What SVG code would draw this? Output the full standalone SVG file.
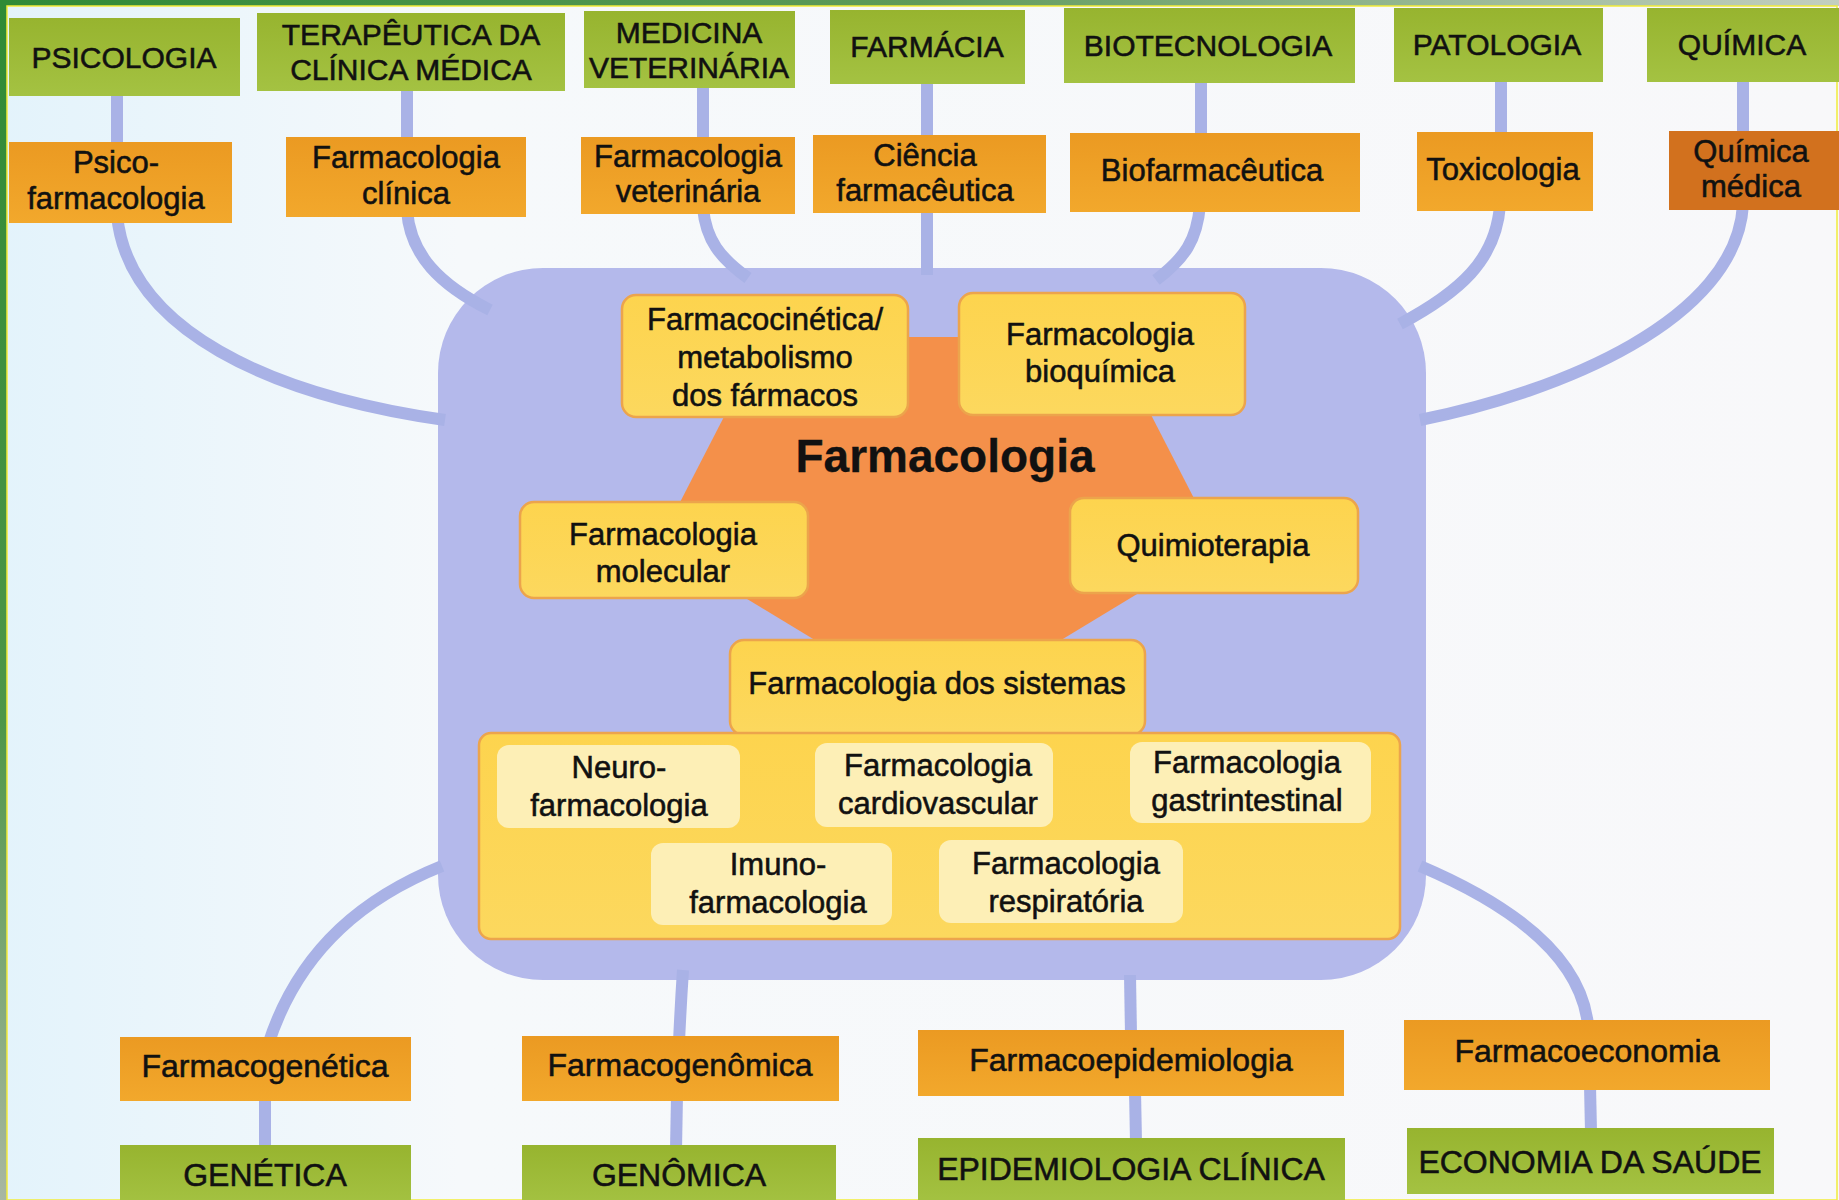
<svg xmlns="http://www.w3.org/2000/svg" width="1839" height="1200" viewBox="0 0 1839 1200">
<defs>
<linearGradient id="bg" x1="0" y1="0" x2="1" y2="0">
<stop offset="0" stop-color="#e3f3fb"/><stop offset="0.25" stop-color="#f6f9fb"/><stop offset="1" stop-color="#f8f8fa"/>
</linearGradient>
<linearGradient id="topband" x1="0" y1="0" x2="1" y2="0">
<stop offset="0" stop-color="#2f8a36"/><stop offset="0.5" stop-color="#5e9a5a"/><stop offset="1" stop-color="#c3cfc0"/>
</linearGradient>
<linearGradient id="leftband" x1="0" y1="0" x2="0" y2="1">
<stop offset="0" stop-color="#2f8a36"/><stop offset="0.6" stop-color="#4e9648"/><stop offset="1" stop-color="#a9b7a2"/>
</linearGradient>
<linearGradient id="grn" x1="0" y1="0" x2="0" y2="1">
<stop offset="0" stop-color="#97b42f"/><stop offset="1" stop-color="#a4c242"/>
</linearGradient>
<linearGradient id="org" x1="0" y1="0" x2="0" y2="1">
<stop offset="0" stop-color="#eb9a22"/><stop offset="1" stop-color="#f2a82c"/>
</linearGradient>
<linearGradient id="yel" x1="0" y1="0" x2="0" y2="1">
<stop offset="0" stop-color="#fdd44e"/><stop offset="1" stop-color="#fcd85e"/>
</linearGradient>
</defs>
<style>
.t{font-family:"Liberation Sans",Arial,Helvetica,sans-serif;font-size:31px;fill:#111;stroke:#111;stroke-width:0.55px;text-anchor:middle;dominant-baseline:central}
.tt{font-size:30px}
.tb{font-size:32px}
.g{fill:url(#grn)}
.o{fill:url(#org)}
.om{fill:#d2711e}
.y{fill:url(#yel);stroke:#eca44c;stroke-width:2.5}
.p{fill:#fdefb6}
.c{fill:none;stroke:#a9b2e6;stroke-width:12;stroke-linecap:butt}
</style>
<rect x="0" y="0" width="1839" height="1200" fill="url(#bg)"/>
<rect x="0" y="0" width="1839" height="6" fill="url(#topband)"/>
<rect x="0" y="0" width="7" height="1200" fill="url(#leftband)"/>
<rect x="7" y="6" width="1830" height="1194" fill="none" stroke="#f2ec3a" stroke-width="1.5"/>

<g id="area-farmacologia">
<rect x="438" y="268" width="988" height="712" rx="105" fill="#b4b9eb"/>
</g>

<g id="connectors">
<path class="c" d="M117,90 L117,150"/>
<path class="c" d="M117,215 C128,330 270,395 445,420"/>
<path class="c" d="M407,85 L407,145"/>
<path class="c" d="M407,210 C410,255 440,285 490,310"/>
<path class="c" d="M703,82 L703,145"/>
<path class="c" d="M703,208 C706,240 720,258 748,278"/>
<path class="c" d="M927,80 L927,275"/>
<path class="c" d="M1201,78 L1201,140"/>
<path class="c" d="M1200,205 C1197,240 1185,258 1156,280"/>
<path class="c" d="M1501,78 L1501,140"/>
<path class="c" d="M1500,205 C1496,260 1460,292 1400,324"/>
<path class="c" d="M1743,78 L1743,140"/>
<path class="c" d="M1743,205 C1736,320 1560,392 1420,420"/>
<path class="c" d="M442,866 C370,895 300,945 268,1045"/>
<path class="c" d="M265,1095 L265,1150"/>
<path class="c" d="M683,970 C681,1000 680,1020 679,1042"/>
<path class="c" d="M677,1095 L676,1150"/>
<path class="c" d="M1130,975 L1131,1035"/>
<path class="c" d="M1135,1090 L1136,1142"/>
<path class="c" d="M1420,866 C1500,900 1580,950 1588,1025"/>
<path class="c" d="M1590,1085 L1591,1132"/>
</g>

<g id="hexagono-farmacologia">
<polygon points="765,337 1111,337 1218,545 1048,648 828,648 658,545" fill="#f4904a"/>
<text class="t" x="945" y="456" style="font-size:46px;font-weight:bold;stroke-width:0.3px">Farmacologia</text>
</g>

<g id="psicologia"><rect class="g" x="9" y="18" width="231" height="78"/><text class="t tt" x="124" y="57">PSICOLOGIA</text></g>
<g id="terapeutica"><rect class="g" x="257" y="13" width="308" height="78"/><text class="t tt" x="411" y="34">TERAPÊUTICA DA</text><text class="t tt" x="411" y="69">CLÍNICA MÉDICA</text></g>
<g id="medicina-veterinaria"><rect class="g" x="584" y="11" width="211" height="77"/><text class="t tt" x="689" y="32">MEDICINA</text><text class="t tt" x="689" y="67">VETERINÁRIA</text></g>
<g id="farmacia"><rect class="g" x="830" y="10" width="195" height="74"/><text class="t tt" x="927" y="46">FARMÁCIA</text></g>
<g id="biotecnologia"><rect class="g" x="1064" y="8" width="291" height="75"/><text class="t tt" x="1208" y="45">BIOTECNOLOGIA</text></g>
<g id="patologia"><rect class="g" x="1394" y="8" width="209" height="74"/><text class="t tt" x="1497" y="44">PATOLOGIA</text></g>
<g id="quimica"><rect class="g" x="1647" y="8" width="192" height="74"/><text class="t tt" x="1742" y="44">QUÍMICA</text></g>

<g id="psicofarmacologia"><rect class="o" x="9" y="142" width="223" height="81"/><text class="t" x="116" y="162">Psico-</text><text class="t" x="116" y="198">farmacologia</text></g>
<g id="farmacologia-clinica"><rect class="o" x="286" y="137" width="240" height="80"/><text class="t" x="406" y="157">Farmacologia</text><text class="t" x="406" y="193">clínica</text></g>
<g id="farmacologia-veterinaria"><rect class="o" x="581" y="137" width="214" height="77"/><text class="t" x="688" y="156">Farmacologia</text><text class="t" x="688" y="191">veterinária</text></g>
<g id="ciencia-farmaceutica"><rect class="o" x="813" y="135" width="233" height="78"/><text class="t" x="925" y="155">Ciência</text><text class="t" x="925" y="190">farmacêutica</text></g>
<g id="biofarmaceutica"><rect class="o" x="1070" y="133" width="290" height="79"/><text class="t" x="1212" y="170">Biofarmacêutica</text></g>
<g id="toxicologia"><rect class="o" x="1417" y="132" width="176" height="79"/><text class="t" x="1503" y="169">Toxicologia</text></g>
<g id="quimica-medica"><rect class="om" x="1669" y="131" width="170" height="79"/><text class="t" x="1751" y="151">Química</text><text class="t" x="1751" y="186">médica</text></g>

<g id="farmacocinetica"><rect class="y" x="622" y="295" width="286" height="122" rx="14"/><text class="t" x="765" y="319">Farmacocinética/</text><text class="t" x="765" y="357">metabolismo</text><text class="t" x="765" y="395">dos fármacos</text></g>
<g id="farmacologia-bioquimica"><rect class="y" x="959" y="293" width="286" height="122" rx="14"/><text class="t" x="1100" y="334">Farmacologia</text><text class="t" x="1100" y="371">bioquímica</text></g>
<g id="farmacologia-molecular"><rect class="y" x="520" y="502" width="288" height="96" rx="14"/><text class="t" x="663" y="534">Farmacologia</text><text class="t" x="663" y="571">molecular</text></g>
<g id="quimioterapia"><rect class="y" x="1070" y="498" width="288" height="95" rx="14"/><text class="t" x="1213" y="545">Quimioterapia</text></g>
<g id="farmacologia-sistemas"><rect class="y" x="730" y="640" width="415" height="95" rx="14"/><text class="t" x="937" y="683">Farmacologia dos sistemas</text></g>

<g id="sistemas-grupo"><rect class="y" x="479" y="733" width="921" height="206" rx="12"/></g>
<g id="neurofarmacologia"><rect class="p" x="497" y="745" width="243" height="83" rx="12"/><text class="t" x="619" y="767">Neuro-</text><text class="t" x="619" y="805">farmacologia</text></g>
<g id="farmacologia-cardiovascular"><rect class="p" x="815" y="743" width="238" height="84" rx="12"/><text class="t" x="938" y="765">Farmacologia</text><text class="t" x="938" y="803">cardiovascular</text></g>
<g id="farmacologia-gastrintestinal"><rect class="p" x="1130" y="742" width="241" height="81" rx="12"/><text class="t" x="1247" y="762">Farmacologia</text><text class="t" x="1247" y="800">gastrintestinal</text></g>
<g id="imunofarmacologia"><rect class="p" x="651" y="843" width="241" height="82" rx="12"/><text class="t" x="778" y="864">Imuno-</text><text class="t" x="778" y="902">farmacologia</text></g>
<g id="farmacologia-respiratoria"><rect class="p" x="939" y="840" width="244" height="83" rx="12"/><text class="t" x="1066" y="863">Farmacologia</text><text class="t" x="1066" y="901">respiratória</text></g>

<g id="farmacogenetica"><rect class="o" x="120" y="1037" width="291" height="64"/><text class="t tb" x="265" y="1066">Farmacogenética</text></g>
<g id="farmacogenomica"><rect class="o" x="522" y="1036" width="317" height="65"/><text class="t tb" x="680" y="1065">Farmacogenômica</text></g>
<g id="farmacoepidemiologia"><rect class="o" x="918" y="1030" width="426" height="66"/><text class="t tb" x="1131" y="1060">Farmacoepidemiologia</text></g>
<g id="farmacoeconomia"><rect class="o" x="1404" y="1020" width="366" height="70"/><text class="t tb" x="1587" y="1051">Farmacoeconomia</text></g>

<g id="genetica"><rect class="g" x="120" y="1145" width="291" height="60"/><text class="t tb" x="265" y="1175">GENÉTICA</text></g>
<g id="genomica"><rect class="g" x="522" y="1145" width="314" height="60"/><text class="t tb" x="679" y="1175">GENÔMICA</text></g>
<g id="epidemiologia-clinica"><rect class="g" x="918" y="1138" width="427" height="65"/><text class="t tb" x="1131" y="1169">EPIDEMIOLOGIA CLÍNICA</text></g>
<g id="economia-saude"><rect class="g" x="1407" y="1128" width="367" height="66"/><text class="t tb" x="1590" y="1162">ECONOMIA DA SAÚDE</text></g>
</svg>
